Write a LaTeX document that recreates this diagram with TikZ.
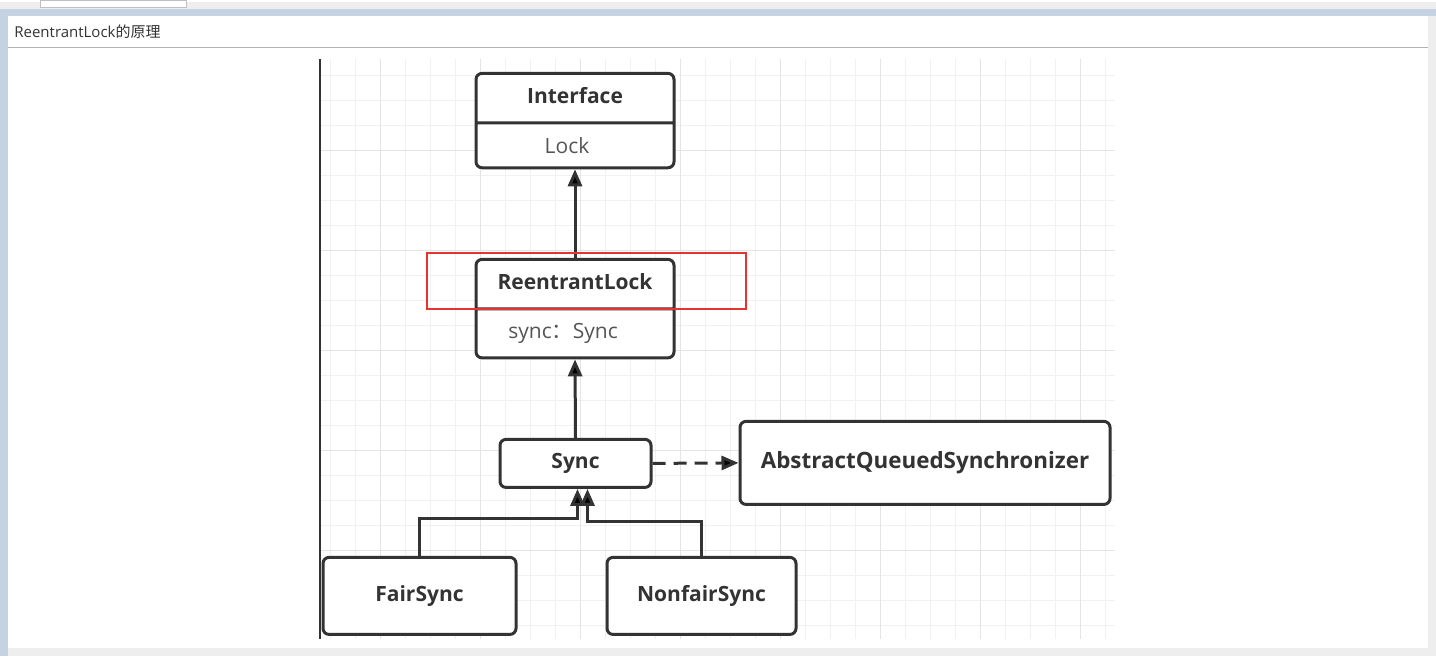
\documentclass[tikz,border=0pt]{standalone}
\usepackage{fontspec}
\setmainfont{Open Sans}
\newfontfamily\cjk{Noto Sans CJK SC}
\usetikzlibrary{shapes.multipart,arrows.meta}

\definecolor{linec}{HTML}{333333}
\definecolor{textg}{HTML}{555555}
\definecolor{gridmin}{HTML}{F1F1F1}
\definecolor{gridmaj}{HTML}{E4E4E4}
\definecolor{chrome}{HTML}{EEEEEE}
\definecolor{frame}{HTML}{C5D2E1}
\definecolor{hired}{HTML}{E8342F}

\begin{document}
\begin{tikzpicture}[
	x=0.5pt, y=-0.5pt,
	cls/.style={
		draw=linec, line width=1.5pt, rounded corners=3pt,
		fill=white, text=linec,
		font=\fontsize{10.5}{12}\selectfont\bfseries,
		inner sep=0pt
	},
	split/.style={
		cls, rectangle split, rectangle split parts=2,
		minimum width=99pt, text height=8pt, text depth=2.5pt,
		inner ysep=6.4pt, anchor=north
	},
	inh/.style={
		draw=linec, line width=1.5pt,
		-{Triangle[width=7pt,length=8.5pt]}
	},
	hilite/.style={
		draw=hired, line width=1pt
	}
	]

	% window
	\fill[chrome] (0,0) rectangle (1436,654);
	\fill[white, draw=gray!50] (40,-2) rectangle (186,5);
	\fill[frame] (0,7) rectangle (1436,14);
	\fill[frame] (0,14) rectangle (8,654);
	\fill[white] (8,14) rectangle (1428,646);
	\draw[gray!60, line width=0.75pt] (8,45) -- (1428,45);
	\node[anchor=west, text=linec, font=\fontsize{7.5}{9}\selectfont, inner sep=0pt] (Title) at (14,29) {ReentrantLock{\cjk 的原理}};

	% grid
	\foreach \x in {330,355,...,1105}
		\draw[gridmin, line width=0.5pt] (\x,57) -- (\x,637);
	\foreach \y in {73,98,...,623}
		\draw[gridmin, line width=0.5pt] (320,\y) -- (1115,\y);
	\foreach \x in {380,480,...,1080}
		\draw[gridmaj, line width=0.5pt] (\x,57) -- (\x,637);
	\foreach \y in {148,248,...,548}
		\draw[gridmaj, line width=0.5pt] (320,\y) -- (1115,\y);
	\draw[linec, line width=1pt] (320,57) -- (320,637);

	\node[split] (Iface) at (575,69.5) {Interface\nodepart{second}\mdseries\color{textg}\hspace*{-8pt}Lock};
	\node[split] (RL) at (575,255.5) {ReentrantLock\nodepart{second}\mdseries\color{textg}\hspace*{-12pt}sync{\cjk ：}Sync};
	\node[cls, minimum width=75.5pt, minimum height=24pt] (Sync) at (575.5,461) {Sync};
	\node[cls, minimum width=185pt, minimum height=41.5pt, font=\fontsize{11.2}{13}\selectfont\bfseries] (AQS) at (925,460.5) {AbstractQueuedSynchronizer};
	\node[cls, minimum width=96.5pt, minimum height=38.5pt] (Fair) at (419.5,593.5) {FairSync};
	\node[cls, minimum width=94.5pt, minimum height=38.5pt] (Nonfair) at (701.5,593.5) {NonfairSync};

	\draw[inh] (RL.north) -- (Iface.south);
	\draw[inh] (Sync.north) -- (RL.south);
	\draw[inh, dash pattern=on 6.5pt off 4pt] (Sync.east) -- (AQS.west);
	\draw[inh] (Fair.north) -- ++(0,-37) -| ([xshift=1pt]Sync.south);
	\draw[inh] (Nonfair.north) -- ++(0,-34) -| ([xshift=6pt]Sync.south);

	\draw[hilite] (427,251) rectangle (746,307);

\end{tikzpicture}
\end{document}
